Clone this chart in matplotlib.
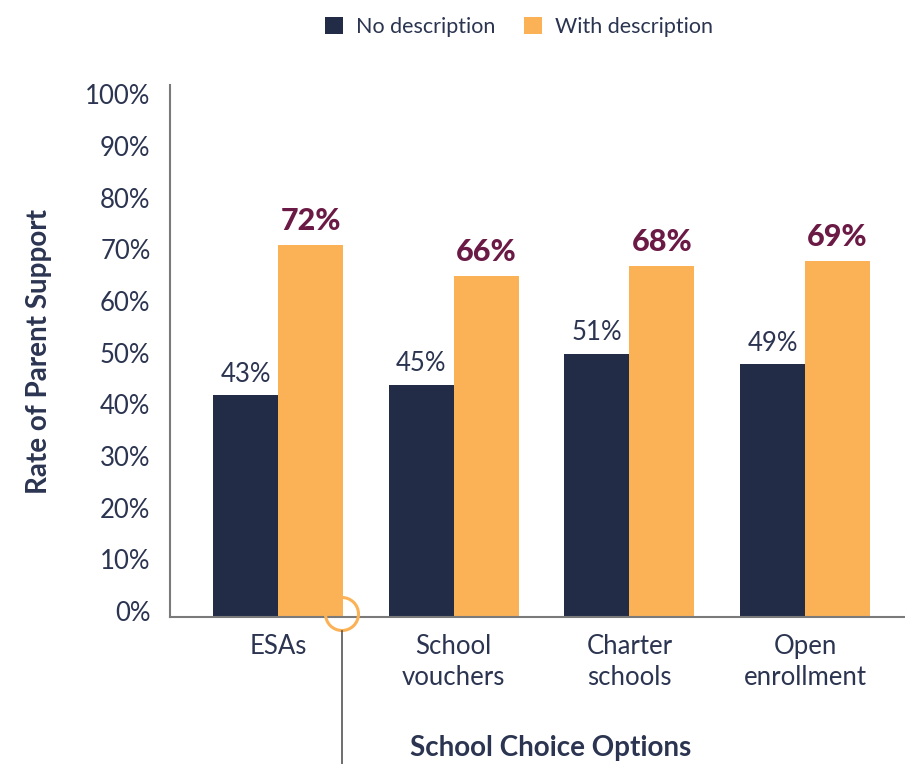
import numpy as np
import matplotlib.pyplot as plt
import matplotlib.transforms as mtransforms
from matplotlib.patches import Ellipse
from matplotlib.lines import Line2D

plt.rcParams['font.family'] = ['Lato', 'DejaVu Sans']

categories = ["ESAs", "School\nvouchers", "Charter\nschools", "Open\nenrollment"]
no_desc = [43, 45, 51, 49]
with_desc = [72, 66, 68, 69]
yticks = list(range(0, 101, 10))

navy = "#222c47"
orange = "#fbb257"
maroon = "#6b1a45"
text_col = "#2b3450"

fig = plt.figure(figsize=(9.05, 7.64), dpi=100)
ax = fig.add_axes([170 / 905, 147 / 764, 735 / 905, 532 / 764])

x = np.arange(len(categories))
w = 0.37
b1 = ax.bar(x - w / 2, no_desc, w, color=navy, label="No description")
b2 = ax.bar(x + w / 2, with_desc, w, color=orange, label="With description")

for xi, v in zip(x, no_desc):
    ax.annotate(f"{v}%", (xi - w / 2, v), xytext=(0, 6), textcoords="offset points",
                ha="center", va="bottom", fontsize=18.5, color=text_col)
for xi, v in zip(x, with_desc):
    ax.annotate(f"{v}%", (xi + w / 2, v), xytext=(0, 7), textcoords="offset points",
                ha="center", va="bottom", fontsize=22, fontweight="black", color=maroon)

ax.set_xlim(-0.615, 3.569)
ax.set_ylim(0, 103)
ax.set_yticks(yticks)
ax.set_yticklabels([f"{t}%" for t in yticks])
ax.set_xticks(x)
ax.set_xticklabels(categories, linespacing=1.3)
ax.tick_params(axis="both", length=0, labelsize=18.5, labelcolor=text_col)
ax.tick_params(axis="y", pad=14)
ax.tick_params(axis="x", pad=12)

# tick labels sit a little above their gridline in the original
shift = mtransforms.ScaledTranslation(0, 6 / 100, fig.dpi_scale_trans)
for lbl in ax.get_yticklabels():
    lbl.set_transform(lbl.get_transform() + shift)

for s in ["top", "right"]:
    ax.spines[s].set_visible(False)
for s in ["left", "bottom"]:
    ax.spines[s].set_color("#7a7a7a")
    ax.spines[s].set_linewidth(1.5)

ax.set_ylabel("Rate of Parent Support", fontsize=20, fontweight="bold", color=text_col, labelpad=24)
fig.text(551 / 905, 1 - 748 / 764, "School Choice Options", ha="center", va="center",
         fontsize=20, fontweight="bold", color=text_col)

fig.legend(handles=[b1, b2], loc="center", bbox_to_anchor=(519 / 905, 1 - 27 / 764),
           ncol=2, frameon=False, fontsize=15.5, labelcolor=text_col,
           handlelength=0.85, handleheight=0.85, handletextpad=0.6, columnspacing=1.3)

# orange ring marker with a thin line going down
fig.add_artist(Line2D([342 / 905, 342 / 905], [0, 1 - 631 / 764], color="#555555", lw=1.2))
fig.add_artist(Ellipse((342 / 905, 1 - 614 / 764), width=33 / 905, height=33 / 764,
                       transform=fig.transFigure, fill=False, edgecolor=orange, lw=2.2))

plt.savefig("out.png", dpi=100)
